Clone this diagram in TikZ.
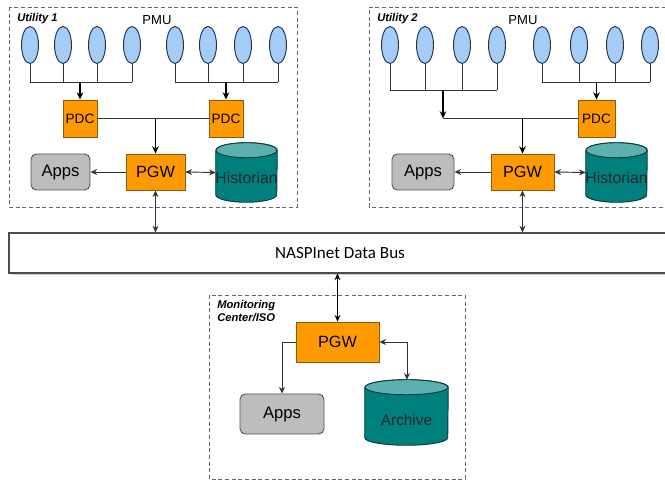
\documentclass[tikz,border=0pt]{standalone}
\usepackage{fontspec}
\setmainfont{Liberation Sans}
\newfontfamily\busfont{Carlito}
\usetikzlibrary{arrows.meta,shapes.geometric}
\definecolor{pmufill}{HTML}{A3CCF7}
\definecolor{pmuedge}{HTML}{1F2F4F}
\definecolor{orangefill}{HTML}{FF9900}
\definecolor{orangeedge}{HTML}{8A5A10}
\definecolor{appsfill}{HTML}{BDBDBD}
\definecolor{appsedge}{HTML}{555555}
\definecolor{cylbody}{HTML}{007F7F}
\definecolor{cyltop}{HTML}{5CB0B0}
\definecolor{cyledge}{HTML}{0A3A3A}
\definecolor{dashgray}{HTML}{666666}
\definecolor{linegray}{HTML}{333333}
\newcommand{\drawcyl}[3]{%
  \path[fill=cylbody,draw=cyledge,line width=0.7pt]
    ([yshift=-#3*0.75pt]#1.north west) -- ([yshift=#3*0.75pt]#1.south west)
    arc[start angle=180,end angle=360,x radius={#2*0.375pt},y radius={#3*0.75pt}]
    -- ([yshift=-#3*0.75pt]#1.north east)
    arc[start angle=0,end angle=180,x radius={#2*0.375pt},y radius={#3*0.75pt}] -- cycle;
  \path[fill=cyltop,draw=cyledge,line width=0.7pt]
    ([yshift=-#3*0.75pt]#1.north) ellipse[x radius={#2*0.375pt},y radius={#3*0.75pt}];
}
\tikzset{
  x=0.75pt,y=-0.75pt,
  pmu/.style={ellipse,draw=pmuedge,fill=pmufill,line width=0.7pt,minimum width=17*0.75pt,minimum height=37*0.75pt,inner sep=0pt},
  pdcbox/.style={rectangle,draw=orangeedge,fill=orangefill,line width=0.6pt,inner sep=0pt,font=\fontsize{10.2}{12}\selectfont},
  pgwbox/.style={rectangle,draw=orangeedge,fill=orangefill,line width=0.6pt,inner sep=0pt,font=\fontsize{12.2}{14}\selectfont},
  appsbox/.style={rectangle,rounded corners=4pt,draw=appsedge,fill=appsfill,line width=0.7pt,inner sep=0pt,font=\fontsize{12.5}{14}\selectfont},
  cylnode/.style={rectangle,inner sep=0pt,text=black!85},
  region/.style={draw=dashgray,dashed,dash pattern=on 3pt off 2pt,line width=0.7pt},
  conn/.style={draw=linegray,line width=0.7pt},
  arr/.style={conn,-{Stealth[length=5pt,width=4.5pt]}},
  barr/.style={draw=black,line width=0.9pt,-{Stealth[length=5.5pt,width=5pt]}},
  darr/.style={conn,{Stealth[length=5pt,width=4.5pt]}-{Stealth[length=5pt,width=4.5pt]}},
  lbl/.style={font=\fontsize{8.4}{10}\selectfont\bfseries\itshape,align=left,inner sep=0pt},
  pmulbl/.style={font=\fontsize{9.8}{11}\selectfont,inner sep=0pt},
}
\begin{document}
\begin{tikzpicture}
\useasboundingbox (0,0) rectangle (665,481);
% regions
\draw[region] (9,7) rectangle (297,207);
\draw[region] (666,7) -- (369,7) -- (369,207) -- (666,207);
\draw[region] (209,295) rectangle (465,479);
\node[lbl,anchor=west] (u1lbl) at (17,19) {Utility 1};
\node[lbl,anchor=west] (u2lbl) at (377,19) {Utility 2};
\node[lbl,anchor=north west] (mclbl) at (217,300) {Monitoring\\Center/ISO};
\node[pmulbl] (pmu1lbl) at (157,20) {PMU};
\node[pmulbl] (pmu2lbl) at (523,20) {PMU};
% bus
\fill[black!18] (11,235.5) rectangle (671,275.5);
\node[draw=black!70,line width=0.8pt,fill=white,minimum width=662*0.75pt,minimum height=40*0.75pt,inner sep=0pt,font=\busfont\fontsize{12.8}{14}\selectfont] (bus) at (340,253) {NASPInet Data Bus};
% ===== Utility 1 =====
\foreach \x [count=\i] in {30,63,97,132,175,208,243,278} {\node[pmu] (a\i) at (\x,45) {};}
\node[pdcbox,minimum width=34*0.75pt,minimum height=37*0.75pt] (pdc1) at (80,118.5) {PDC};
\node[pdcbox,minimum width=34*0.75pt,minimum height=37*0.75pt] (pdc2) at (226,118.5) {PDC};
\node[pgwbox,minimum width=59*0.75pt,minimum height=36*0.75pt] (pgw1) at (155.5,172) {PGW};
\node[appsbox,minimum width=59*0.75pt,minimum height=36*0.75pt] (apps1) at (60.5,172) {Apps};
\node[cylnode,minimum width=61*0.75pt,minimum height=59*0.75pt] (hist1) at (246.5,172.5) {};
\drawcyl{hist1}{61}{7.5}
\node[cylnode,font=\fontsize{11.8}{13}\selectfont] (hist1t) at (246.5,178) {Historian};
\coordinate (b1) at (30,82); \coordinate (b1r) at (132,82);
\coordinate (b2) at (175,82); \coordinate (b2r) at (278,82);
\foreach \i in {1,2,3,4} {\draw[conn] (a\i.south) -- (a\i.south |- b1);}
\foreach \i in {5,6,7,8} {\draw[conn] (a\i.south) -- (a\i.south |- b2);}
\draw[conn] (b1) -- (b1r);
\draw[conn] (b2) -- (b2r);
\draw[barr] (pdc1.north |- b1) -- (pdc1.north);
\draw[barr] (pdc2.north |- b2) -- (pdc2.north);
\draw[conn] (pdc1.east) -- (pdc2.west);
\draw[barr] (pgw1.north |- pdc1.east) -- (pgw1.north);
\draw[arr] (pgw1.west) -- (apps1.east);
\draw[darr] (pgw1.east) -- (hist1.west);
\draw[darr] (pgw1.south) -- (pgw1.south |- bus.north);
% ===== Utility 2 =====
\foreach \x [count=\i] in {390,425,462,497,542,579,615,650} {\node[pmu] (c\i) at (\x,45) {};}
\node[pdcbox,minimum width=37*0.75pt,minimum height=37*0.75pt] (pdc3) at (596.5,118.5) {PDC};
\node[pgwbox,minimum width=63*0.75pt,minimum height=36*0.75pt] (pgw2) at (522.5,172) {PGW};
\node[appsbox,minimum width=62*0.75pt,minimum height=36*0.75pt] (apps2) at (423,172) {Apps};
\node[cylnode,minimum width=61*0.75pt,minimum height=59*0.75pt] (hist2) at (616.5,172.5) {};
\drawcyl{hist2}{61}{7.5}
\node[cylnode,font=\fontsize{11.8}{13}\selectfont] (hist2t) at (616.5,178) {Historian};
\coordinate (d1) at (390,90); \coordinate (d1r) at (497,90);
\coordinate (d2) at (542,82); \coordinate (d2r) at (650,82);
\coordinate (j1) at (443,90); \coordinate (j1e) at (443,118.5);
\foreach \i in {1,2,3,4} {\draw[conn] (c\i.south) -- (c\i.south |- d1);}
\foreach \i in {5,6,7,8} {\draw[conn] (c\i.south) -- (c\i.south |- d2);}
\draw[conn] (d1) -- (d1r);
\draw[conn] (d2) -- (d2r);
\draw[barr] (j1) -- (j1e);
\draw[barr] (pdc3.north |- d2) -- (pdc3.north);
\draw[conn] (pdc3.west) -- (j1e);
\draw[barr] (pgw2.north |- pdc3.west) -- (pgw2.north);
\draw[arr] (pgw2.west) -- (apps2.east);
\draw[darr] (pgw2.east) -- (hist2.west);
\draw[darr] (pgw2.south) -- (pgw2.south |- bus.north);
% ===== Monitoring center =====
\node[pgwbox,minimum width=83*0.75pt,minimum height=40*0.75pt] (pgw3) at (337.5,342) {PGW};
\node[appsbox,minimum width=84*0.75pt,minimum height=40*0.75pt] (apps3) at (282,414) {Apps};
\node[cylnode,minimum width=83*0.75pt,minimum height=65*0.75pt] (arch) at (406.5,412.5) {};
\drawcyl{arch}{83}{7.5}
\node[cylnode,font=\fontsize{11.5}{13}\selectfont] (archt) at (406.5,420) {Archive};
\coordinate (m1) at (282,342);
\coordinate (m2) at (407,342);
\draw[darr,draw=black,line width=0.9pt] (bus.south -| pgw3.north) -- (pgw3.north);
\draw[conn] (pgw3.west) -- (m1);
\draw[arr] (m1) -- (apps3.north);
\draw[arr] (m2) -- (pgw3.east);
\draw[arr] (m2) -- (m2 |- arch.north);
\end{tikzpicture}
\end{document}
